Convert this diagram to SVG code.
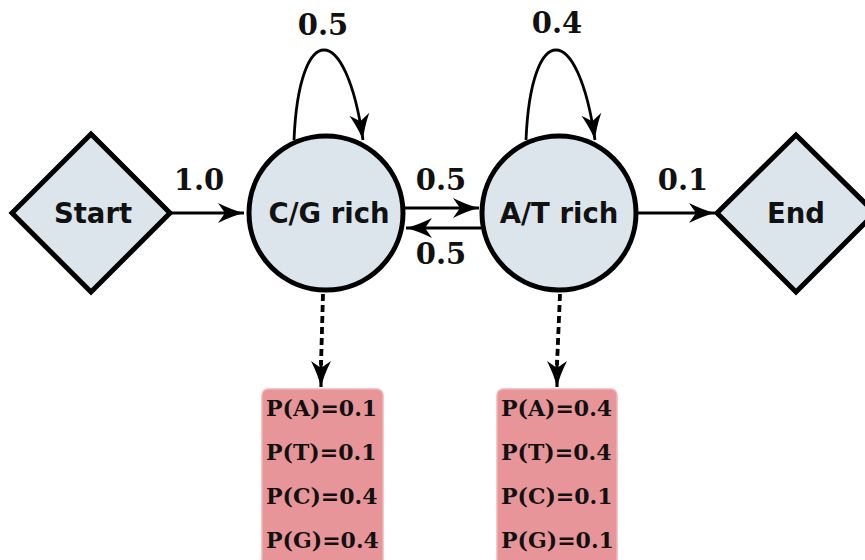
<svg xmlns="http://www.w3.org/2000/svg" width="865" height="560" viewBox="0 0 865 560">
<style>
.node{fill:#dce4ec;stroke:#000;stroke-width:5}
.nlab{font-family:"DejaVu Sans",sans-serif;font-weight:bold;font-size:27.5px;text-anchor:middle;fill:#111}
.num{font-family:"DejaVu Serif",serif;font-weight:bold;font-size:29px;text-anchor:middle;fill:#111}
.emit{fill:#e8959a;stroke:#f2b5b8;stroke-width:1.5}
.etxt{font-family:"DejaVu Serif",serif;font-weight:bold;font-size:22px;fill:#111}
.edge{fill:none;stroke:#000;stroke-width:3.2}
.loop{fill:none;stroke:#000;stroke-width:2.8}
.dash{fill:none;stroke:#000;stroke-width:3.8;stroke-dasharray:7 4}
</style>
<defs>
<marker id="ah" markerUnits="userSpaceOnUse" markerWidth="30" markerHeight="24" refX="0" refY="0" viewBox="-26 -12 30 24" orient="auto" overflow="visible">
<path d="M0,0 Q-12,-3 -26,-10 L-19,0 L-26,10 Q-12,3 0,0 Z" fill="#000"/>
</marker>
</defs>
<g id="connectors">
<line class="edge" x1="170" y1="213" x2="244" y2="213" marker-end="url(#ah)"/>
<line class="edge" x1="404" y1="208" x2="479" y2="208" marker-end="url(#ah)"/>
<line class="edge" x1="481" y1="228" x2="406" y2="228" marker-end="url(#ah)"/>
<line class="edge" x1="638" y1="213" x2="715" y2="213" marker-end="url(#ah)"/>
<path class="loop" d="M294,140 C299,20 346,20 363,140" marker-end="url(#ah)"/>
<path class="loop" d="M526,140 C531,20 578,20 595,140" marker-end="url(#ah)"/>
<line class="dash" x1="323" y1="294" x2="321" y2="365"/>
<line class="dash" x1="560" y1="294" x2="557" y2="365"/>
<line class="edge" x1="321" y1="360" x2="321" y2="387" marker-end="url(#ah)" stroke-width="0.1"/>
<line class="edge" x1="557" y1="360" x2="557" y2="387" marker-end="url(#ah)" stroke-width="0.1"/>
<text class="num" x="199" y="190">1.0</text>
<text class="num" x="441" y="190">0.5</text>
<text class="num" x="441" y="264">0.5</text>
<text class="num" x="683" y="190">0.1</text>
<text class="num" x="323" y="35">0.5</text>
<text class="num" x="557" y="33">0.4</text>
</g>
<g id="start">
<polygon class="node" points="12,213 91,134 170,213 91,292"/>
<text class="nlab" x="93" y="223">Start</text>
</g>
<g id="cg">
<circle class="node" cx="326" cy="213" r="77"/>
<text class="nlab" x="329" y="223">C/G rich</text>
</g>
<g id="at">
<circle class="node" cx="559" cy="213" r="77"/>
<text class="nlab" x="559" y="223">A/T rich</text>
</g>
<g id="end">
<polygon class="node" points="717,213 796,135 875,213 796,292"/>
<text class="nlab" x="796" y="223">End</text>
</g>
<g id="emit-cg">
<rect class="emit" x="262" y="389" width="121" height="185" rx="6"/>
<text class="etxt" x="266" y="416">P(A)=0.1</text>
<text class="etxt" x="266" y="460">P(T)=0.1</text>
<text class="etxt" x="266" y="504">P(C)=0.4</text>
<text class="etxt" x="266" y="548">P(G)=0.4</text>
</g>
<g id="emit-at">
<rect class="emit" x="497" y="389" width="120" height="185" rx="6"/>
<text class="etxt" x="501" y="416">P(A)=0.4</text>
<text class="etxt" x="501" y="460">P(T)=0.4</text>
<text class="etxt" x="501" y="504">P(C)=0.1</text>
<text class="etxt" x="501" y="548">P(G)=0.1</text>
</g>
</svg>
